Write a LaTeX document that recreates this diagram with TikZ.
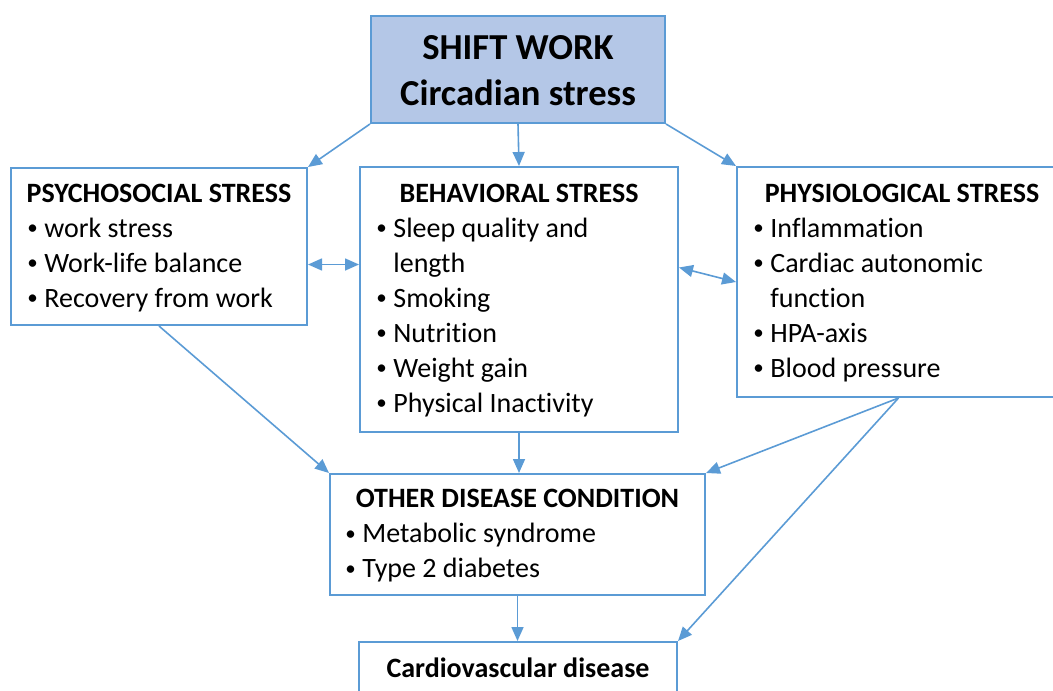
\documentclass[tikz,border=0pt]{standalone}
\usepackage{fontspec}
\setmainfont{Carlito}[Ligatures=NoCommon]
\usepackage{tikz}
\usetikzlibrary{arrows.meta}
\definecolor{boxline}{RGB}{91,155,213}
\definecolor{boxfill}{RGB}{180,199,231}
\newcommand{\bul}{\makebox[8.5pt][l]{\raisebox{0.15ex}{\scalebox{0.75}{\textbullet}}}}
\newcommand{\nobul}{\hspace*{8.5pt}}

\begin{document}
\begin{tikzpicture}[x=0.5pt, y=-0.5pt,
  box/.style={draw=boxline, line width=1pt, rectangle, inner sep=0pt},
  head/.style={anchor=base, inner sep=0pt, font=\fontsize{14}{16}\selectfont\bfseries},
  txt/.style={anchor=base west, inner sep=0pt, font=\fontsize{14}{16}\selectfont},
  arr/.style={draw=boxline, line width=0.8pt, >={Triangle[length=7pt,width=6pt]}, ->}]
\useasboundingbox (0,0) rectangle (1053,690);
% boxes
\node[box, fill=boxfill, minimum width=147pt, minimum height=53.5pt] (shift) at (518,69.5) {};
\node[box, minimum width=148pt, minimum height=78.5pt] (psy) at (159,246.5) {};
\node[box, minimum width=159pt, minimum height=132.5pt] (beh) at (519,299.5) {};
\node[box, minimum width=161.5pt, minimum height=115pt] (phys) at (898.5,282) {};
\node[box, minimum width=187.5pt, minimum height=60.5pt] (other) at (517.5,534.5) {};
\node[box, minimum width=159pt, minimum height=50pt] (cvd) at (518,692) {};
% titles
\node[head, font=\fontsize{18.3}{20}\selectfont\bfseries] (shifthead) at (518,60) {SHIFT WORK};
\node[head, font=\fontsize{18.3}{20}\selectfont\bfseries] (shiftsub) at (518,105) {Circadian stress};
\node[head] (psyhead) at (159,202) {PSYCHOSOCIAL STRESS};
\node[head] (behhead) at (519,202) {BEHAVIORAL STRESS};
\node[head] (physhead) at (902,202) {PHYSIOLOGICAL STRESS};
\node[head] (otherhead) at (517.5,507) {OTHER DISEASE CONDITION};
\node[head] (cvdhead) at (518,677) {Cardiovascular disease};
% lists
\foreach \t [count=\i] in {work stress, Work-life balance, Recovery from work}
  \node[txt] (psy\i) at (27,{202+35*\i}) {\bul\t};
\foreach \t [count=\i] in {\bul Sleep quality and, \nobul length, \bul Smoking,
    \bul Nutrition, \bul Weight gain, \bul Physical Inactivity}
  \node[txt] (beh\i) at (376,{202+35*\i}) {\t};
\foreach \t [count=\i] in {\bul Inflammation, \bul Cardiac autonomic, \nobul function,
    \bul HPA-axis, \bul Blood pressure}
  \node[txt] (phys\i) at (753,{202+35*\i}) {\t};
\foreach \t [count=\i] in {Metabolic syndrome, Type 2 diabetes}
  \node[txt] (other\i) at (345,{507+35*\i}) {\bul\t};
% connectors
\draw[arr] (shift.south west) -- (psy.north east);
\draw[arr] (shift.south) -- (beh.north);
\draw[arr] (shift.south east) -- (phys.north west);
\draw[arr, <->] ([yshift=-9pt]psy.east) -- ([yshift=-9pt]psy.east -| beh.west);
\draw[arr, <->] ([yshift=16pt]beh.east) -- (phys.west);
\draw[arr] (psy.south) -- (other.north west);
\draw[arr] (beh.south) -- (beh.south |- other.north);
\draw[arr] (phys.south) -- (other.north east);
\draw[arr] (phys.south) -- (cvd.north east);
\draw[arr] (other.south) -- (other.south |- cvd.north);
\end{tikzpicture}
\end{document}
